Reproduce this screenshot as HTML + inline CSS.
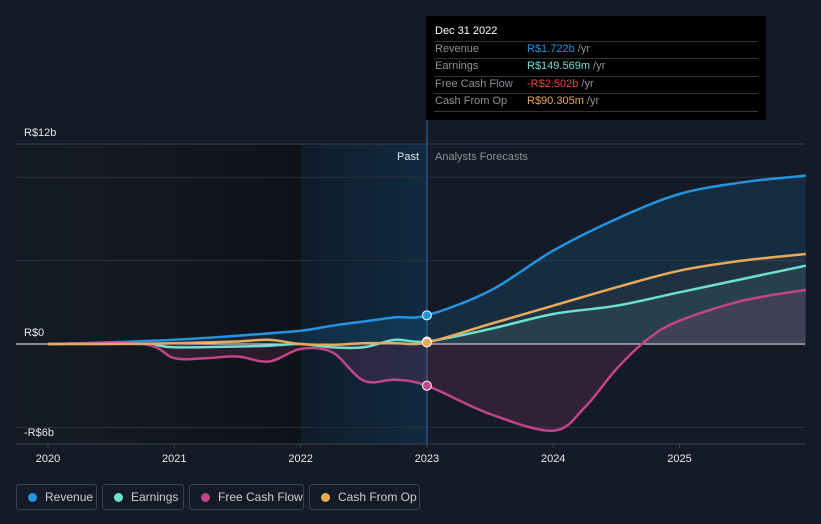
<!DOCTYPE html>
<html><head><meta charset="utf-8"><style>
body{margin:0;background:#151b26;font-family:"Liberation Sans",sans-serif;}
#wrap{position:relative;width:821px;height:524px;overflow:hidden;background:#151b26;}
.leg{position:absolute;top:484px;height:26px;border:1px solid #3a404b;border-radius:3px;box-sizing:border-box;color:#c9cdd3;font-size:12px;line-height:24px;padding-left:28px;}
.leg i{position:absolute;left:11px;top:8px;width:9px;height:9px;border-radius:50%;}
</style></head><body>
<div id="wrap">
<svg id="svg" width="821" height="524" style="position:absolute;left:0;top:0">
<defs>
<linearGradient id="pastL" x1="0" x2="1"><stop offset="0" stop-color="#131820" stop-opacity="0.2"/><stop offset="1" stop-color="#0e1218" stop-opacity="1"/></linearGradient>
<linearGradient id="pastB" x1="0" x2="1"><stop offset="0" stop-color="#0f1c29"/><stop offset="1" stop-color="#102a40"/></linearGradient>
</defs>
<rect x="16" y="144" width="285" height="300" fill="url(#pastL)"/>
<rect x="301" y="144" width="126" height="300" fill="url(#pastB)"/>
<g id="grid"></g>
<g id="areas"></g>
<g id="lines"></g>
<g id="dots"></g>
<text x="24" y="136" fill="#e6e8eb" font-size="11">R$12b</text>
<text x="24" y="336" fill="#e6e8eb" font-size="11">R$0</text>
<text x="24" y="436" fill="#e6e8eb" font-size="11">-R$6b</text>
<text x="419" y="160" fill="#e6e8eb" font-size="11" text-anchor="end">Past</text>
<text x="435" y="160" fill="#8a9099" font-size="11">Analysts Forecasts</text>
<g id="xt"></g>
</svg>
<div style="position:absolute;left:426px;top:16px;width:340px;height:104px;background:#000;font-size:11px;">
<div style="position:absolute;left:9px;top:9px;color:#fff;">Dec 31 2022</div>
<div style="position:absolute;left:8px;right:8px;top:25px;border-top:1px solid #333"></div>
<div style="position:absolute;left:9px;top:27px;color:#8d9199">Revenue</div><div style="position:absolute;left:101px;top:27px;color:#8d9199"><span style="color:#2394df">R$1.722b</span> /yr</div>
<div style="position:absolute;left:8px;right:8px;top:42px;border-top:1px solid #333"></div>
<div style="position:absolute;left:9px;top:44px;color:#8d9199">Earnings</div><div style="position:absolute;left:101px;top:44px;color:#8d9199"><span style="color:#6ee0cf">R$149.569m</span> /yr</div>
<div style="position:absolute;left:8px;right:8px;top:60px;border-top:1px solid #333"></div>
<div style="position:absolute;left:9px;top:62px;color:#8d9199">Free Cash Flow</div><div style="position:absolute;left:101px;top:62px;color:#8d9199"><span style="color:#f0433a">-R$2.502b</span> /yr</div>
<div style="position:absolute;left:8px;right:8px;top:77px;border-top:1px solid #333"></div>
<div style="position:absolute;left:9px;top:79px;color:#8d9199">Cash From Op</div><div style="position:absolute;left:101px;top:79px;color:#8d9199"><span style="color:#e8a95b">R$90.305m</span> /yr</div>
<div style="position:absolute;left:8px;right:8px;top:95px;border-top:1px solid #333"></div>
</div>
<div class="leg" style="left:16px;width:81px"><i style="background:#2394df"></i>Revenue</div>
<div class="leg" style="left:102px;width:82px"><i style="background:#6ee0cf"></i>Earnings</div>
<div class="leg" style="left:189px;width:115px"><i style="background:#c2448a"></i>Free Cash Flow</div>
<div class="leg" style="left:309px;width:111px"><i style="background:#e8a95b"></i>Cash From Op</div>
</div>
<script>
const years=[2020,2021,2022,2023,2024,2025];
const revT=[2020,2020.5,2021,2021.5,2022,2022.25,2022.5,2022.75,2023,2023.5,2024,2024.5,2025,2025.5,2026];
const revV=[0,0.1,0.25,0.5,0.8,1.1,1.35,1.6,1.72,3.2,5.6,7.5,9.0,9.7,10.1];
const earT=[2020,2020.75,2021,2021.5,2021.75,2022,2022.25,2022.5,2022.75,2023,2023.5,2024,2024.5,2025,2025.5,2026];
const earV=[0,0,-0.2,-0.15,-0.1,0,-0.2,-0.2,0.25,0.15,0.9,1.8,2.3,3.1,3.9,4.7];
const fcfT=[2020,2020.75,2021,2021.25,2021.5,2021.75,2022,2022.25,2022.5,2022.75,2023,2023.5,2024,2024.25,2024.5,2024.75,2025,2025.5,2026];
const fcfV=[0,0,-0.85,-0.85,-0.75,-1.05,-0.3,-0.5,-2.2,-2.15,-2.5,-4.2,-5.2,-3.8,-1.5,0.3,1.4,2.6,3.25];
const cfoT=[2020,2020.5,2021,2021.5,2021.75,2022,2022.25,2022.5,2022.75,2023,2023.5,2024,2024.5,2025,2025.5,2026];
const cfoV=[0,0,0.05,0.15,0.25,0,-0.05,0.05,0.05,0.09,1.2,2.3,3.4,4.4,5.0,5.4];
const X=t=>48+(t-2020)*126.3;
const Y=v=>344-v*16.67;
const NS='http://www.w3.org/2000/svg';
function mk(tag,attrs,parent){const e=document.createElementNS(NS,tag);for(const k in attrs)e.setAttribute(k,attrs[k]);document.getElementById(parent).appendChild(e);return e;}
function path(ts,vs){const p=ts.map((t,i)=>[X(t),Y(vs[i])]);let d='M'+p[0][0]+','+p[0][1];
for(let i=0;i<p.length-1;i++){const p0=p[Math.max(0,i-1)],p1=p[i],p2=p[i+1],p3=p[Math.min(p.length-1,i+2)];
const c1=[p1[0]+(p2[0]-p0[0])/6,p1[1]+(p2[1]-p0[1])/6],c2=[p2[0]-(p3[0]-p1[0])/6,p2[1]-(p3[1]-p1[1])/6];
d+=' C'+c1[0].toFixed(1)+','+c1[1].toFixed(1)+' '+c2[0].toFixed(1)+','+c2[1].toFixed(1)+' '+p2[0].toFixed(1)+','+p2[1].toFixed(1);}return d;}
[[10,'#2a313c'],[5,'#2a313c'],[-5,'#2a313c']].forEach(([v,c])=>{const l=mk('line',{x1:16,x2:805,y1:Y(v),y2:Y(v),stroke:c,'stroke-width':1},'grid');});
let l=mk('line',{x1:16,x2:805,y1:144,y2:144,stroke:'#3a414c'},'grid');
l=mk('line',{x1:16,x2:805,y1:444,y2:444,stroke:'#3a414c'},'grid');
l=mk('line',{x1:16,x2:805,y1:Y(0),y2:Y(0),stroke:'#ffffff','stroke-width':1},'grid');
l=mk('line',{x1:X(2023),x2:X(2023),y1:120,y2:444,stroke:'#1f4a6a','stroke-width':2},'grid');
years.forEach(y=>{const t=mk('text',{x:X(y),y:462,fill:'#e6e8eb','font-size':11,'text-anchor':'middle'},'xt');t.textContent=y;

const k=mk('line',{x1:X(y),x2:X(y),y1:444,y2:448,stroke:'#3a414c'},'xt');});
const series=[['revenue',revT,revV,'#2394df','rgba(35,148,223,0.15)'],['earnings',earT,earV,'#6ee0cf','rgba(110,224,207,0.08)'],['free-cash-flow',fcfT,fcfV,'#c2448a','rgba(194,68,138,0.16)'],['cash-from-op',cfoT,cfoV,'#e8a95b','rgba(232,169,91,0.05)']];
series.forEach(([n,ts,vs,c,f])=>{const d=path(ts,vs);
const a=mk('path',{d:d+' L'+X(ts[ts.length-1])+','+Y(0)+' L'+X(ts[0])+','+Y(0)+'Z',fill:f},'areas');
const p=mk('path',{d:d,fill:'none',stroke:c,'stroke-width':2.5},'lines');
const i=ts.indexOf(2023);const dt=mk('circle',{cx:X(2023),cy:Y(vs[i]),r:4.5,fill:c,stroke:'#fff','stroke-width':1},'dots');});
</script>
</body></html>
